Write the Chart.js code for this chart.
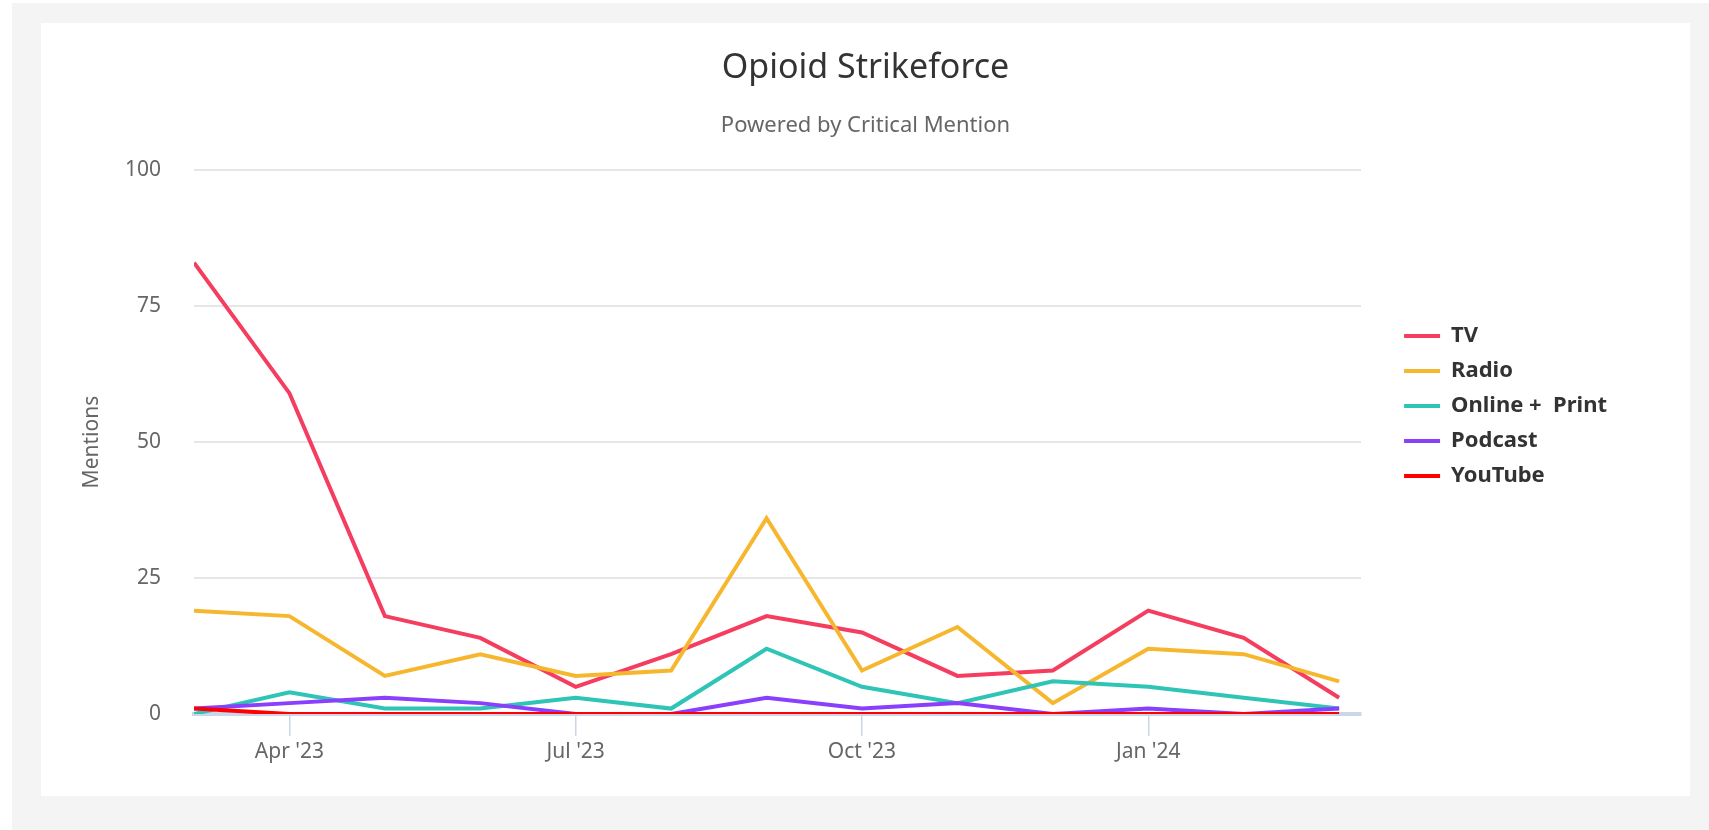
<!DOCTYPE html>
<html>
<head>
<meta charset="utf-8">
<title>Opioid Strikeforce</title>
<script src="https://cdn.jsdelivr.net/npm/chart.js@4/dist/chart.umd.min.js"></script>
<style>
  html, body { margin: 0; padding: 0; background: #fff; overflow: hidden; }
  #frame { position: absolute; left: 12px; top: 3px; width: 1697px; height: 827px; background: #f4f4f4; }
  #card { position: absolute; left: 29px; top: 20px; width: 1649px; height: 773px; background: #fff; }
</style>
</head>
<body>
<div id="frame">
  <div id="card"><canvas id="chart-mentions"></canvas></div>
</div>
<script>
// monthly mentions, Mar 2023 .. Mar 2024
const months = ['Mar 2023', 'Apr 2023', 'May 2023', 'Jun 2023', 'Jul 2023', 'Aug 2023', 'Sep 2023',
                'Oct 2023', 'Nov 2023', 'Dec 2023', 'Jan 2024', 'Feb 2024', 'Mar 2024'];
const tv      = [83, 59, 18, 14, 5, 11, 18, 15, 7, 8, 19, 14, 3];
const radio   = [19, 18, 7, 11, 7, 8, 36, 8, 16, 2, 12, 11, 6];
const online  = [0, 4, 1, 1, 3, 1, 12, 5, 2, 6, 5, 3, 1];
const podcast = [1, 2, 3, 2, 0, 0, 3, 1, 2, 0, 1, 0, 1];
const youtube = [1, 0, 0, 0, 0, 0, 0, 0, 0, 0, 0, 0, 0];

const xTickPositions = [1, 4, 7, 10];
const xTickLabels = ["Apr '23", "Jul '23", "Oct '23", "Jan '24"];
const yTicks = [0, 25, 50, 75, 100];

const font = '"Noto Sans", "Open Sans", sans-serif';

const toPoints = (values) => values.map((v, i) => ({ x: i, y: v }));

const series = [
  { label: 'TV', values: tv, color: '#f43d5f' },
  { label: 'Radio', values: radio, color: '#f6b72e' },
  { label: 'Online +  Print', values: online, color: '#2ec4b6' },
  { label: 'Podcast', values: podcast, color: '#8a3ffc' },
  { label: 'YouTube', values: youtube, color: '#ff0000' },
];

const datasets = series.map((s, i) => ({
  label: s.label,
  data: toPoints(s.values),
  borderColor: s.color,
  backgroundColor: s.color,
  borderWidth: 4,
  pointRadius: 0,
  pointHoverRadius: 0,
  tension: 0,
  order: series.length - 1 - i, // later series drawn on top
}));

// keep some empty room to the right of the legend without shrinking the title box
const legendRightRoom = {
  id: 'legendRightRoom',
  beforeInit(chart) {
    const fit = chart.legend.fit;
    chart.legend.fit = function () {
      fit.bind(chart.legend)();
      this.width += 73;
    };
  },
};

const ctx = document.getElementById('chart-mentions').getContext('2d');
const chart = new Chart(ctx, {
  type: 'line',
  data: { datasets: datasets },
  plugins: [legendRightRoom],
  options: {
    responsive: true,
    maintainAspectRatio: false,
    animation: false,
    layout: { padding: { top: 2, left: 0, right: 0, bottom: 9 } },
    plugins: {
      title: {
        display: true,
        text: 'Opioid Strikeforce',
        color: '#333333',
        font: { family: font, size: 34, weight: 'normal' },
        padding: { top: 22.5, bottom: 0 },
      },
      subtitle: {
        display: true,
        text: 'Powered by Critical Mention',
        color: '#666666',
        font: { family: font, size: 22, weight: 'normal' },
        padding: { top: 24.5, bottom: 31 },
      },
      legend: {
        position: 'right',
        align: 'center',
        labels: {
          usePointStyle: true,
          pointStyle: 'line',
          pointStyleWidth: 36,
          padding: 13,
          color: '#333333',
          font: { family: font, size: 22, weight: 'bold' },
          sort: (a, b) => a.datasetIndex - b.datasetIndex,
        },
      },
      tooltip: { enabled: false },
    },
    scales: {
      x: {
        type: 'linear',
        min: 0,
        max: 12.23,
        afterBuildTicks: (scale) => { scale.ticks = xTickPositions.map(v => ({ value: v })); },
        afterFit: (scale) => { scale.height = 73; },
        ticks: {
          color: '#666666',
          padding: 3,
          maxRotation: 0,
          font: { family: font, size: 21 },
          callback: (value) => xTickLabels[xTickPositions.indexOf(value)],
        },
        grid: { drawOnChartArea: false, drawTicks: true, tickLength: 22, color: '#ccd6eb', lineWidth: 1.5 },
        border: { display: true, color: '#ccd6eb', width: 4 },
      },
      y: {
        min: 0,
        max: 100,
        afterBuildTicks: (scale) => { scale.ticks = yTicks.map(v => ({ value: v })); },
        afterFit: (scale) => { scale.width = 153; },
        ticks: {
          color: '#666666',
          padding: 33,
          font: { family: font, size: 21 },
        },
        grid: { color: '#e6e6e6', lineWidth: 2, drawTicks: false },
        border: { display: false },
        title: {
          display: true,
          text: 'Mentions',
          color: '#666666',
          font: { family: font, size: 21 },
          padding: { top: 38, bottom: 0 },
        },
      },
      spacer: {
        position: 'right',
        display: true,
        afterFit: (scale) => { scale.width = 30; },
        ticks: { display: false },
        grid: { display: false },
        border: { display: false },
      },
    },
  },
});
</script>
</body>
</html>
